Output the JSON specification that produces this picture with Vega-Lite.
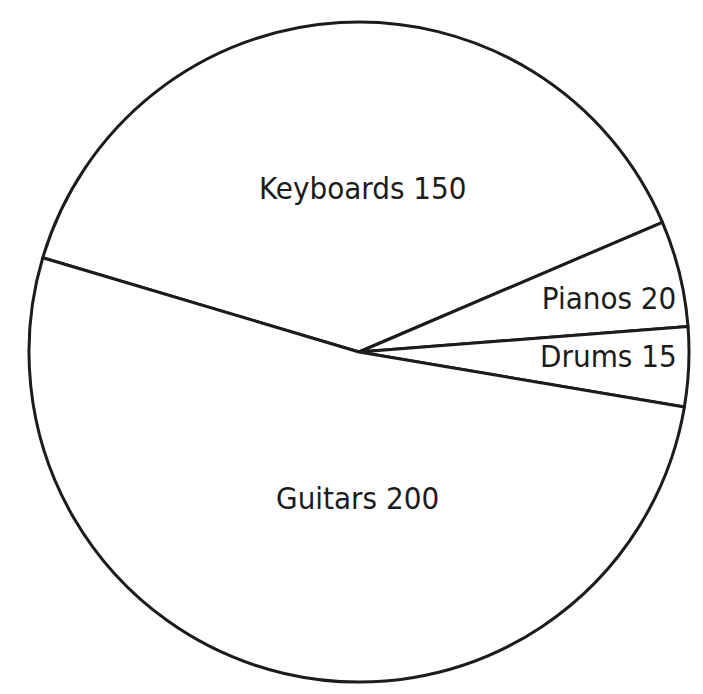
{
  "$schema": "https://vega.github.io/schema/vega-lite/v6.json",
  "width": 688,
  "height": 684,
  "padding": {"left": 15, "top": 10, "right": 0, "bottom": 0},
  "autosize": {"type": "none"},
  "background": "white",
  "config": {"view": {"stroke": null}},
  "data": {
    "values": [
      {"category": "Keyboards", "value": 150, "order": 1, "label": "Keyboards 150"},
      {"category": "Pianos", "value": 20, "order": 2, "label": "Pianos 20"},
      {"category": "Drums", "value": 15, "order": 3, "label": "Drums 15"},
      {"category": "Guitars", "value": 200, "order": 4, "label": "Guitars 200"}
    ]
  },
  "encoding": {
    "theta": {"field": "value", "type": "quantitative", "stack": true, "scale": {"range": [-1.281, 5.002]}},
    "order": {"field": "order", "type": "quantitative"}
  },
  "layer": [
    {
      "mark": {"type": "arc", "outerRadius": 330, "fill": "white", "stroke": "#1c1c1c", "strokeWidth": 3, "strokeJoin": "round"}
    },
    {
      "mark": {"type": "text", "radius": 162, "dx": 13, "align": "center", "baseline": "middle", "font": "DejaVu Sans Condensed, sans-serif", "fontSize": 31, "fill": "#1c1c1c"},
      "encoding": {"text": {"condition": {"test": "datum.category === 'Keyboards'", "field": "label"}, "value": ""}}
    },
    {
      "mark": {"type": "text", "radius": 152, "dx": 33, "align": "center", "baseline": "middle", "font": "DejaVu Sans Condensed, sans-serif", "fontSize": 31, "fill": "#1c1c1c"},
      "encoding": {"text": {"condition": {"test": "datum.category === 'Guitars'", "field": "label"}, "value": ""}}
    },
    {
      "mark": {"type": "text", "radius": 300, "dx": 26, "dy": 20, "align": "right", "baseline": "middle", "font": "DejaVu Sans Condensed, sans-serif", "fontSize": 31, "fill": "#1c1c1c"},
      "encoding": {"text": {"condition": {"test": "datum.category === 'Pianos'", "field": "label"}, "value": ""}}
    },
    {
      "mark": {"type": "text", "radius": 300, "dx": 18, "dy": -7, "align": "right", "baseline": "middle", "font": "DejaVu Sans Condensed, sans-serif", "fontSize": 31, "fill": "#1c1c1c"},
      "encoding": {"text": {"condition": {"test": "datum.category === 'Drums'", "field": "label"}, "value": ""}}
    }
  ]
}
